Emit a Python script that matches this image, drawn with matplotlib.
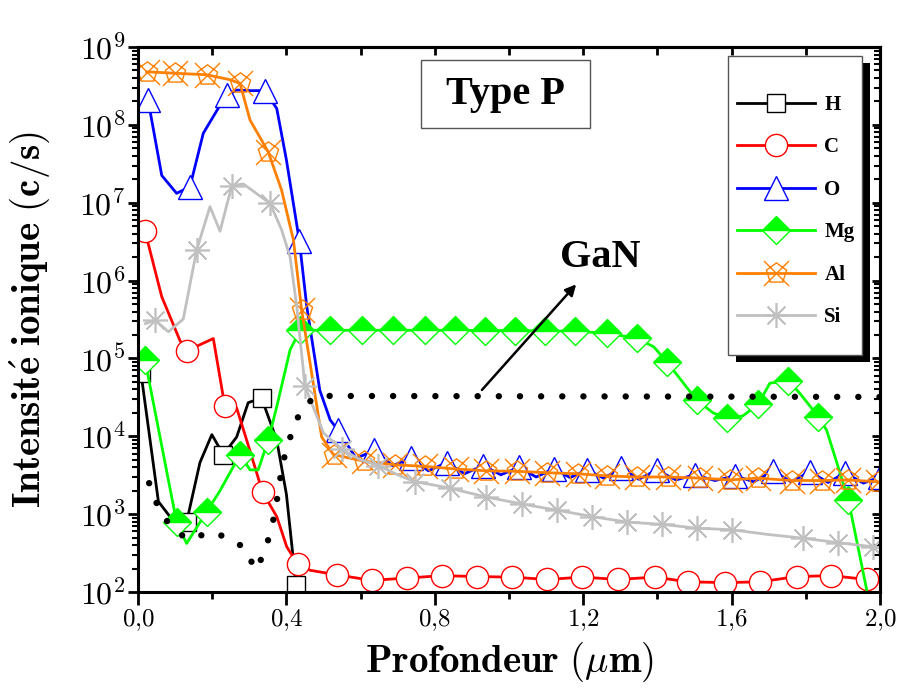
import numpy as np
import matplotlib
matplotlib.use('Agg')
import matplotlib.pyplot as plt
from matplotlib.lines import Line2D
from matplotlib.patches import Rectangle
from matplotlib.path import Path
from matplotlib.ticker import FuncFormatter, LogLocator, NullFormatter, MultipleLocator

plt.rcParams['mathtext.fontset'] = 'cm'

# === Data ===
h_x = [0.008, 0.055, 0.10, 0.131, 0.167, 0.199, 0.23, 0.266, 0.297, 0.333, 0.374, 0.40, 0.426]
h_y = [6.5e4, 1.45e3, 7.6e2, 7.9e2, 4.6e3, 1.05e4, 5.8e3, 9.8e3, 2.7e4, 3.1e4, 8.9e3, 1.8e3, 1.23e2]
h_mk = [0, 3, 6, 9, 12]

c_x = [0.019, 0.064, 0.113, 0.133, 0.203, 0.234, 0.266, 0.293, 0.336, 0.374, 0.401, 0.43, 0.464,
       0.536, 0.63, 0.724, 0.819, 0.913, 1.008, 1.103, 1.198, 1.294, 1.393, 1.483, 1.582, 1.677,
       1.775, 1.869, 1.964]
c_y = [4.3e6, 6.2e5, 1.7e5, 1.26e5, 1.8e5, 2.45e4, 2.3e4, 8.9e3, 1.9e3, 9.3e2, 3.8e2, 2.3e2, 1.9e2,
       1.66e2, 1.41e2, 1.51e2, 1.62e2, 1.58e2, 1.55e2, 1.45e2, 1.55e2, 1.45e2, 1.55e2, 1.35e2,
       1.32e2, 1.35e2, 1.58e2, 1.62e2, 1.45e2]
c_mk = [0, 3, 5, 8, 11] + list(range(13, 29))

o_x = [0.027, 0.064, 0.104, 0.14, 0.176, 0.221, 0.239, 0.266, 0.302, 0.342, 0.374, 0.40, 0.435,
       0.455, 0.49, 0.518, 0.539, 0.588, 0.637, 0.686, 0.735, 0.783, 0.832, 0.88, 0.93, 0.978,
       1.027, 1.073, 1.12, 1.165, 1.21, 1.255, 1.303, 1.35, 1.398, 1.45, 1.50, 1.555, 1.61, 1.66,
       1.712, 1.76, 1.811, 1.86, 1.906, 1.955, 2.0]
o_y = [2.1e8, 2.24e7, 1.32e7, 1.6e7, 7.8e7, 1.78e8, 2.4e8, 2.8e8, 2.75e8, 2.75e8, 1.62e8, 3.55e7,
       3.2e6, 4.6e5, 3.9e4, 1.62e4, 1.2e4, 5.2e3, 6.6e3, 4.2e3, 5.2e3, 3.6e3, 4.6e3, 3.3e3, 4.2e3,
       3.2e3, 4.0e3, 3.0e3, 3.8e3, 2.95e3, 3.7e3, 2.9e3, 3.9e3, 2.8e3, 3.7e3, 2.75e3, 3.2e3, 2.7e3,
       3.1e3, 2.6e3, 3.6e3, 2.6e3, 3.5e3, 2.55e3, 3.4e3, 2.5e3, 3.0e3]
o_mk = [0, 3, 6, 9, 12, 16] + list(range(18, 47, 2))

mg_x = [0.019, 0.104, 0.131, 0.185, 0.221, 0.275, 0.302, 0.324, 0.351, 0.374, 0.41, 0.437, 0.518,
        0.604, 0.687, 0.774, 0.854, 0.935, 1.016, 1.097, 1.178, 1.263, 1.344, 1.39, 1.425, 1.506,
        1.55, 1.587, 1.63, 1.672, 1.703, 1.753, 1.784, 1.834, 1.856, 1.892, 1.915, 1.964]
mg_y = [9.5e4, 7.9e2, 4.2e2, 1.07e3, 2.0e3, 5.8e3, 3.7e3, 3.7e3, 8.9e3, 2.4e4, 1.29e5, 2.3e5, 2.3e5,
        2.3e5, 2.3e5, 2.3e5, 2.3e5, 2.28e5, 2.28e5, 2.26e5, 2.24e5, 2.1e5, 1.82e5, 1.41e5, 9.1e4,
        2.9e4, 2.0e4, 1.7e4, 1.82e4, 2.6e4, 4.8e4, 5.2e4, 3.55e4, 1.78e4, 1.2e4, 3.4e3, 1.5e3, 1.07e2]
mg_mk = [0, 1, 3, 5, 8, 11, 12, 13, 14, 15, 16, 17, 18, 19, 20, 21, 22, 24, 25, 27, 29, 31, 33, 36]

al_x = [0.023, 0.10, 0.185, 0.248, 0.275, 0.302, 0.351, 0.387, 0.419, 0.441, 0.468, 0.495, 0.527,
        0.609, 0.692, 0.774, 0.856, 0.939, 1.021, 1.103, 1.186, 1.263, 1.344, 1.429, 1.515, 1.596,
        1.671, 1.762, 1.843, 1.914, 1.995]
al_y = [4.8e8, 4.6e8, 4.4e8, 3.8e8, 3.4e8, 1.15e8, 4.5e7, 1.45e7, 3.3e6, 4.2e5, 6.5e4, 9.8e3, 5.8e3,
        4.8e3, 4.3e3, 4.1e3, 3.8e3, 3.6e3, 3.55e3, 3.4e3, 3.3e3, 3.1e3, 3.0e3, 3.0e3, 2.9e3, 2.75e3,
        2.9e3, 2.7e3, 2.7e3, 2.75e3, 2.6e3]
al_mk = [0, 1, 2, 4, 6, 9] + list(range(12, 31))

si_x = [0.02, 0.046, 0.082, 0.122, 0.158, 0.194, 0.221, 0.253, 0.284, 0.356, 0.387, 0.41, 0.428,
        0.45, 0.50, 0.549, 0.60, 0.648, 0.70, 0.747, 0.79, 0.841, 0.938, 1.035, 1.13, 1.225, 1.317,
        1.412, 1.506, 1.60, 1.695, 1.793, 1.887, 1.982, 2.0]
si_y = [2.8e5, 3.1e5, 2.2e5, 3.2e5, 2.45e6, 8.9e6, 4.3e6, 1.66e7, 1.74e7, 9.8e6, 4.5e6, 2.0e6, 4.6e5,
        4.4e4, 1.1e4, 6.8e3, 5.0e3, 4.2e3, 3.2e3, 2.6e3, 2.4e3, 2.15e3, 1.66e3, 1.35e3, 1.12e3, 9.3e2,
        7.9e2, 7.4e2, 6.6e2, 6.3e2, 5.5e2, 4.9e2, 4.3e2, 3.8e2, 3.7e2]
si_mk = [1, 4, 7, 9, 13, 15, 17, 19, 21, 22, 23, 24, 25, 26, 27, 28, 29, 31, 32, 33]

gan_x = [0.03, 0.059, 0.10, 0.14, 0.194, 0.248, 0.293, 0.315, 0.342, 0.369, 0.387, 0.40, 0.419,
         0.441, 0.482, 2.0]
gan_y = [2.5e3, 1.07e3, 6.0e2, 4.7e2, 5.9e2, 4.9e2, 3.5e2, 1.9e2, 3.2e2, 1.02e3, 3.7e3, 7.1e3,
         1.26e4, 2.3e4, 3.3e4, 3.2e4]

# === Markers ===
ang = np.deg2rad(90 + 72 * np.arange(5))
pent = np.column_stack([np.cos(ang), np.sin(ang)]) * 0.85
al_verts = list(pent) + [pent[0], (-1, -1), (1, 1), (-1, 1), (1, -1)]
al_codes = [Path.MOVETO] + [Path.LINETO] * 4 + [Path.CLOSEPOLY, Path.MOVETO, Path.LINETO,
                                                Path.MOVETO, Path.LINETO]
al_marker = Path(al_verts, al_codes)

lw = 2.0
styles = {
    'H': dict(color='black', marker='s', ms=13, mfc='white', mec='black', mew=1.0),
    'C': dict(color='#ff0000', marker='o', ms=16, mfc='white', mec='#ff0000', mew=1.0),
    'O': dict(color='#0000ff', marker='^', ms=17, mfc='white', mec='#0000ff', mew=1.0),
    'Mg': dict(color='#00ff00', marker='D', ms=14, fillstyle='top', mfc='#00ff00',
               mfcalt='white', mec='#00ff00', mew=1.0),
    'Al': dict(color='#ff8000', marker=al_marker, ms=18, mfc='none', mec='#ff8000', mew=1.0),
    'Si': dict(color='#c0c0c0', marker=(8, 2, 0), ms=18, mec='#c0c0c0', mew=1.2),
}
series = [('H', h_x, h_y, h_mk), ('C', c_x, c_y, c_mk), ('O', o_x, o_y, o_mk),
          ('Mg', mg_x, mg_y, mg_mk), ('Al', al_x, al_y, al_mk), ('Si', si_x, si_y, si_mk)]

fig = plt.figure(figsize=(8.99, 6.91), dpi=100)
ax = fig.add_axes([0.1535, 0.1433, 0.8254, 0.7887])

handles = []
for name, xs, ys, mk in series:
    st = styles[name]
    ax.plot(xs, ys, lw=lw, markevery=mk, **st)
    handles.append(Line2D([], [], lw=lw, label=name, **st))

ax.plot(gan_x, gan_y, color='black', lw=4.6, linestyle=(0, (0.01, 3.3)),
        dash_capstyle='round', solid_capstyle='round')

ax.set_yscale('log')
ax.set_xlim(0, 2.0)
ax.set_ylim(1e2, 1e9)

# ticks
ax.xaxis.set_major_locator(MultipleLocator(0.4))
ax.xaxis.set_minor_locator(MultipleLocator(0.2))
ax.xaxis.set_major_formatter(FuncFormatter(
    lambda v, p: r'$\mathbf{%s}$' % ('%.1f' % v).replace('.', '{,}')))
ax.yaxis.set_major_locator(LogLocator(base=10, numticks=20))
ax.yaxis.set_minor_locator(LogLocator(base=10, subs=np.arange(2, 10), numticks=20))
ax.yaxis.set_minor_formatter(NullFormatter())
ax.yaxis.set_major_formatter(FuncFormatter(
    lambda v, p: r'$\mathbf{10^{%d}}$' % round(np.log10(v))))
ax.tick_params(axis='x', which='major', direction='out', length=9, width=2, labelsize=18, pad=2)
ax.tick_params(axis='x', which='minor', direction='out', length=5, width=2)
ax.tick_params(axis='y', which='major', direction='out', length=7, width=2, labelsize=23, pad=2)
ax.tick_params(axis='y', which='minor', direction='out', length=4, width=1.5)
for sp in ax.spines.values():
    sp.set_linewidth(2.2)

top = ax.secondary_xaxis('top')
top.xaxis.set_major_locator(MultipleLocator(0.4))
top.xaxis.set_minor_locator(MultipleLocator(0.2))
top.tick_params(which='both', direction='in', length=6, width=2, labeltop=False)
top.spines['top'].set_linewidth(2.2)
right = ax.secondary_yaxis('right')
right.yaxis.set_major_locator(LogLocator(base=10, numticks=20))
right.yaxis.set_minor_locator(LogLocator(base=10, subs=np.arange(2, 10), numticks=20))
right.tick_params(which='major', direction='in', length=6, width=2, labelright=False)
right.tick_params(which='minor', direction='in', length=4, width=1.5, labelright=False)
right.yaxis.set_major_formatter(NullFormatter())
right.yaxis.set_minor_formatter(NullFormatter())
right.spines['right'].set_linewidth(2.2)

ax.set_xlabel(r'$\mathbf{Profondeur\ (}\mu\mathbf{m)}$', fontsize=28, labelpad=5)
ax.set_ylabel(r'$\mathbf{Intensit\acute{e}\ ionique\ (c/s)}$', fontsize=28, labelpad=20)

# Type P box
ax.add_patch(Rectangle((0.381, 0.851), 0.228, 0.125, transform=ax.transAxes,
                       facecolor='white', edgecolor='#555555', lw=1.0, zorder=5))
ax.text(0.495, 0.913, 'Type P', transform=ax.transAxes, ha='center', va='center',
        family='Liberation Serif', weight='bold', fontsize=29, zorder=6)

# GaN arrow
ax.annotate('', xy=(1.186, 9.5e5), xytext=(0.922, 3.7e4),
            arrowprops=dict(arrowstyle='-|>', color='black', lw=1.8, mutation_scale=16))
ax.text(1.245, 2.0e6, 'GaN', ha='center', va='center', family='Liberation Serif',
        weight='bold', fontsize=29)

# legend with shadow
ax.add_patch(Rectangle((0.806, 0.422), 0.181, 0.548, transform=ax.transAxes,
                       facecolor='black', edgecolor='black', lw=0, zorder=7))
ax.add_patch(Rectangle((0.795, 0.435), 0.181, 0.548, transform=ax.transAxes,
                       facecolor='white', edgecolor='#555555', lw=1.0, zorder=8))
leg = ax.legend(handles=handles, loc='upper left', bbox_to_anchor=(0.807, 0.912),
                frameon=False, borderpad=0, borderaxespad=0, handlelength=3.75,
                handletextpad=0.45, labelspacing=1.08,
                prop=dict(family='Liberation Serif', weight='bold', size=15))
leg.set_zorder(9)

fig.savefig('out.png', dpi=100)
